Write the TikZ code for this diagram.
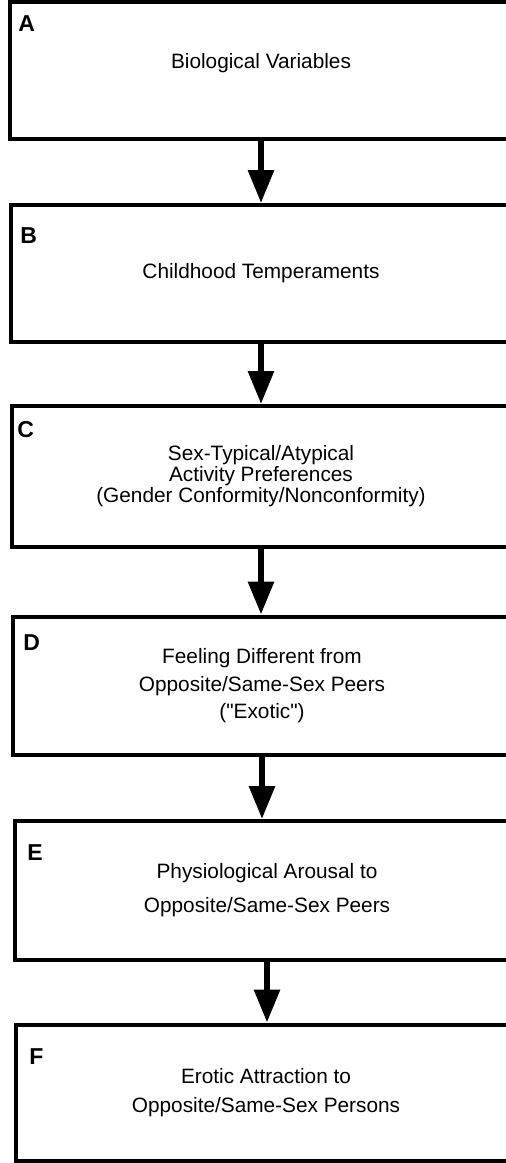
\documentclass[tikz,border=0pt]{standalone}
\usepackage{fontspec}
\setmainfont{Liberation Sans}
\usetikzlibrary{arrows.meta}

\begin{document}
\begin{tikzpicture}[x=0.5pt,y=-0.5pt,
    stage/.style={draw=black,line width=2pt,rectangle,inner sep=0pt,align=center,font=\fontsize{10.4}{12}\selectfont},
    tag/.style={anchor=west,inner sep=0pt,font=\fontsize{11.5}{12}\selectfont\bfseries},
    flow/.style={line width=3pt,-{Triangle[length=16.5pt,width=12.5pt]}}]

  %%%% Page size, the boxes run past the right side %%%%
  \useasboundingbox (0,0) rectangle (506,1163);

  %% The six stages
  \node[stage,minimum width=251.5pt,minimum height=68.5pt,text depth=9.5pt] (boxA) at (261,70.5) {Biological Variables};
  \node[stage,minimum width=250.5pt,minimum height=68.25pt] (boxB) at (261,273.25) {Childhood Temperaments};
  \node[stage,minimum width=249.5pt,minimum height=70.5pt] (boxC) at (261,476.5)
    {Sex-Typical/Atypical\\[-1.5pt]Activity Preferences\\[-1.5pt](Gender Conformity/Nonconformity)};
  \node[stage,minimum width=249pt,minimum height=69.25pt] (boxD) at (262,685.75)
    {Feeling Different from\\[1.75pt]Opposite/Same-Sex Peers\\[1.75pt](\textquotedbl Exotic\textquotedbl)};
  \node[stage,minimum width=252pt,minimum height=69.25pt] (boxE) at (267,890.25)
    {Physiological Arousal to\\[5pt]Opposite/Same-Sex Peers};
  \node[stage,minimum width=250.5pt,minimum height=68.25pt] (boxF) at (266,1092.75)
    {Erotic Attraction to\\[2.5pt]Opposite/Same-Sex Persons};

  %% Letter in the corner of each box
  \foreach \n/\x/\y in {A/18/24,B/20/235.5,C/17/430,D/23/642.5,E/27/852.5,F/29/1056.5}{
    \node[tag] (tag\n) at (\x,\y) {\n};
  }

  %% Arrows from one stage to the next
  \foreach \a/\b in {A/B,B/C,C/D,D/E,E/F}{
    \draw[flow] (box\a.south) -- (box\a.south |- box\b.north);
  }

\end{tikzpicture}
\end{document}
